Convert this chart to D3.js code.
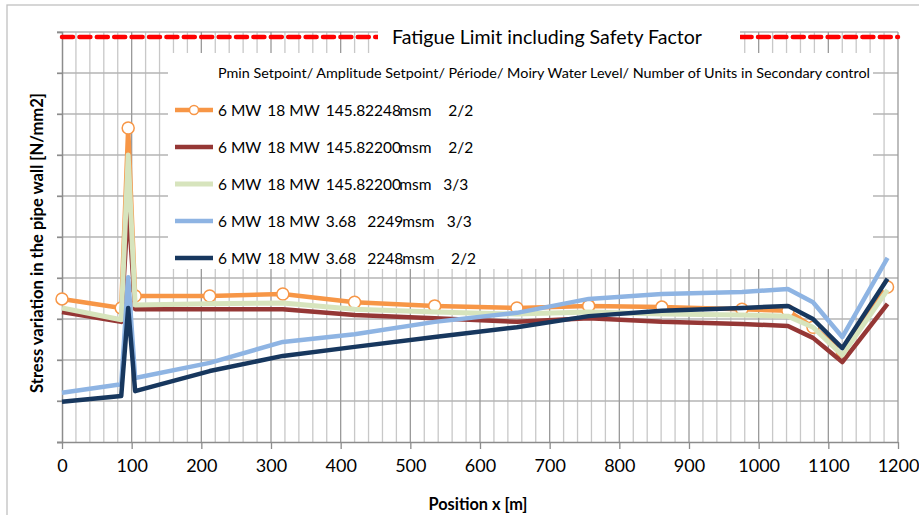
<!DOCTYPE html>
<html>
<head>
<meta charset="utf-8">
<script src="https://cdn.jsdelivr.net/npm/d3@7"></script>
<style>
  html, body { margin: 0; padding: 0; background: #fff; }
  svg { display: block; font-family: Lato, "Open Sans", sans-serif; }
</style>
</head>
<body>
<svg id="chart" width="919" height="515"></svg>
<script>
// Positions along the pipe [m] where the stress variation was evaluated
const positions = [0, 85, 95, 105, 212, 317, 420, 535, 653, 756, 861, 976, 1042, 1078, 1120, 1185];

// Stress variation per load case (same order as positions)
const case1 = [34.9, 32.7, 76.6, 35.6, 35.6, 36.1, 34.1, 33.2, 32.7, 33.2, 32.9, 32.4, 32.0, 28.0, 22.2, 37.8];
const case2 = [31.7, 29.3, 57.8, 32.4, 32.4, 32.4, 31.0, 30.2, 29.3, 30.2, 29.3, 28.8, 28.3, 25.4, 19.5, 33.7];
const case3 = [32.7, 29.8, 70.0, 33.4, 33.7, 33.9, 32.4, 31.7, 31.2, 31.7, 31.2, 31.0, 30.7, 28.0, 21.2, 37.1];
const case4 = [12.0, 14.1, 40.2, 15.6, 19.3, 24.4, 26.3, 29.3, 31.5, 34.9, 36.1, 36.6, 37.3, 34.1, 25.6, 44.9];
const case5 = [9.8, 11.2, 32.7, 12.4, 17.3, 21.0, 23.2, 25.6, 28.0, 30.7, 32.0, 32.7, 33.2, 30.0, 22.9, 39.8];

// Legend columns: Pmin / amplitude / period / Moiry level / units
const legendPmin = ["6 MW", "6 MW", "6 MW", "6 MW", "6 MW"];
const legendAmp = ["18 MW", "18 MW", "18 MW", "18 MW", "18 MW"];
const legendPeriod = ["145.8", "145.8", "145.8", "3.68", "3.68"];
const legendLevel = ["2248", "2200", "2200", "2249", "2248"];
const legendUnits = ["2/2", "2/2", "3/3", "3/3", "2/2"];

const fatigueLimit = 98.8;
const xTicks = [0, 100, 200, 300, 400, 500, 600, 700, 800, 900, 1000, 1100, 1200];
const yTicks = [0, 10, 20, 30, 40, 50, 60, 70, 80, 90, 100];

const seriesColors = ["#F79646", "#953735", "#D7E4BD", "#8EB4E3", "#17375E"];
const seriesData = [case1, case2, case3, case4, case5];

const svg = d3.select("#chart");

// outer chart frame
svg.append("rect")
  .attr("x", 7).attr("y", 5).attr("width", 1000).attr("height", 600)
  .attr("fill", "#fff").attr("stroke", "#c0c0c0").attr("stroke-width", 1.3);

const x = d3.scaleLinear().domain([0, 1200]).range([62, 898]);
const y = d3.scaleLinear().domain([0, 100]).range([442, 32]);

const grid = svg.append("g");

// minor vertical gridlines every 20 m
grid.selectAll("line.minor")
  .data(d3.range(20, 1200, 20).filter(v => v % 100 !== 0))
  .join("line")
  .attr("class", "minor")
  .attr("x1", d => x(d)).attr("x2", d => x(d))
  .attr("y1", y(100)).attr("y2", y(0))
  .attr("stroke", "#c8c8c8").attr("stroke-width", 1.3);

// horizontal gridlines
grid.selectAll("line.h")
  .data(yTicks.filter(v => v > 0))
  .join("line")
  .attr("class", "h")
  .attr("x1", x(0) - 5).attr("x2", x(1200))
  .attr("y1", d => y(d)).attr("y2", d => y(d))
  .attr("stroke", "#b4b4b4").attr("stroke-width", 1.3);

// major vertical gridlines every 100 m
grid.selectAll("line.major")
  .data(xTicks.filter(v => v > 0))
  .join("line")
  .attr("class", "major")
  .attr("x1", d => x(d)).attr("x2", d => x(d))
  .attr("y1", y(100)).attr("y2", y(0))
  .attr("stroke", "#9a9a9a").attr("stroke-width", 1.3);

// axes
const xAxis = d3.axisBottom(x).tickValues(xTicks).tickSize(7).tickPadding(10).tickFormat(d3.format("d"));
const gx = svg.append("g").attr("transform", `translate(0,${y(0)})`).call(xAxis);
gx.select(".domain").attr("stroke", "#8c8c8c").attr("stroke-width", 1.5).attr("d", `M${x(0) - 5},0.5H${x(1200)}`);
gx.selectAll(".tick line").attr("stroke", "#8c8c8c").attr("stroke-width", 1.3);
gx.selectAll(".tick text").attr("fill", "#000").attr("font-size", 18).attr("font-family", "Lato, sans-serif");

const yAxis = d3.axisLeft(y).tickValues(yTicks).tickSize(5).tickFormat("");
const gy = svg.append("g").attr("transform", `translate(${x(0)},0)`).call(yAxis);
gy.select(".domain").attr("stroke", "#8c8c8c").attr("stroke-width", 1.5);
gy.selectAll(".tick line").attr("stroke", "#8c8c8c").attr("stroke-width", 1.3);

// fatigue limit (dashed red)
svg.append("line")
  .attr("x1", x(0)).attr("x2", x(1200))
  .attr("y1", y(fatigueLimit)).attr("y2", y(fatigueLimit))
  .attr("stroke", "#ff0000").attr("stroke-width", 4.5)
  .attr("stroke-dasharray", "11,6.4").attr("stroke-linecap", "round");

// label box for the fatigue limit
svg.append("rect").attr("x", 378).attr("y", 20).attr("width", 362).attr("height", 33).attr("fill", "#fff");
svg.append("text")
  .attr("x", 392).attr("y", 43.5)
  .attr("font-size", 20).attr("fill", "#000")
  .attr("textLength", 310).attr("lengthAdjust", "spacingAndGlyphs")
  .text("Fatigue Limit including Safety Factor");

// series lines; the first load case carries circle markers, later series are drawn over it
const line = d3.line().x((d, i) => x(positions[i])).y(d => y(d));
const plot = svg.append("g");
seriesData.forEach((values, k) => {
  plot.append("path")
    .attr("d", line(values))
    .attr("fill", "none")
    .attr("stroke", seriesColors[k])
    .attr("stroke-width", k === 2 ? 5 : 4.5)
    .attr("stroke-linejoin", "round");
  if (k === 0) {
    plot.append("g").selectAll("circle")
      .data(values)
      .join("circle")
      .attr("cx", (d, i) => x(positions[i]))
      .attr("cy", d => y(d))
      .attr("r", 6)
      .attr("fill", "#fff")
      .attr("stroke", seriesColors[0])
      .attr("stroke-width", 1.5);
  }
});

// legend
const legend = svg.append("g");
legend.append("rect").attr("x", 168).attr("y", 53).attr("width", 705).attr("height", 216).attr("fill", "#fff");
legend.append("text")
  .attr("x", 218).attr("y", 78)
  .attr("font-size", 14).attr("fill", "#000")
  .attr("textLength", 652).attr("lengthAdjust", "spacingAndGlyphs")
  .text("Pmin Setpoint/ Amplitude Setpoint/ Période/ Moiry Water Level/ Number of Units in Secondary control");

const rowY = [110, 147, 184, 221, 258];
const levelX = [365, 365, 365, 367.3, 367.3];
const msmX = [399.3, 399.3, 399.3, 402.3, 402.3];
const unitsX = [448.3, 448.3, 443.3, 446.7, 451];

rowY.forEach((ry, i) => {
  legend.append("line")
    .attr("x1", 175).attr("x2", 213).attr("y1", ry).attr("y2", ry)
    .attr("stroke", seriesColors[i]).attr("stroke-width", i === 2 ? 5 : 4.5);
  if (i === 0) {
    legend.append("circle").attr("cx", 194).attr("cy", ry).attr("r", 4.5)
      .attr("fill", "#fff").attr("stroke", seriesColors[0]).attr("stroke-width", 1.5);
  }
  const t = legend.append("text").attr("y", ry + 5.5).attr("font-size", 15.5).attr("fill", "#000");
  t.append("tspan").attr("x", 218).text(legendPmin[i]);
  t.append("tspan").attr("x", 267.3).text(legendAmp[i]);
  t.append("tspan").attr("x", 325.7).text(legendPeriod[i]);
  t.append("tspan").attr("x", levelX[i]).text(legendLevel[i]);
  t.append("tspan").attr("x", msmX[i]).text("msm");
  t.append("tspan").attr("x", unitsX[i]).text(legendUnits[i]);
});

// axis titles
svg.append("text")
  .attr("transform", `translate(43,243) rotate(-90)`)
  .attr("text-anchor", "middle")
  .attr("font-size", 16.5).attr("font-weight", "bold").attr("fill", "#000")
  .attr("textLength", 300).attr("lengthAdjust", "spacingAndGlyphs")
  .text("Stress variation  in the pipe wall [N/mm2]");

svg.append("text")
  .attr("x", 478).attr("y", 510)
  .attr("text-anchor", "middle")
  .attr("font-size", 16.5).attr("font-weight", "bold").attr("fill", "#000")
  .attr("textLength", 99).attr("lengthAdjust", "spacingAndGlyphs")
  .text("Position x [m]");
</script>
</body>
</html>
